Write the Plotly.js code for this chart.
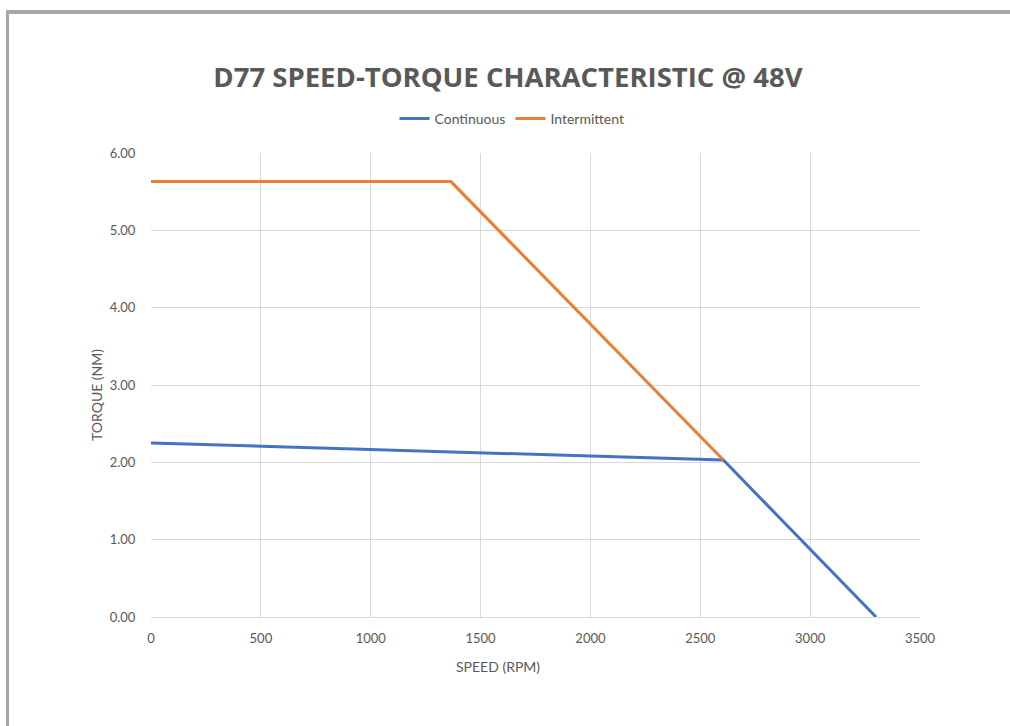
<!DOCTYPE html>
<html>
<head>
<meta charset="utf-8">
<script src="https://cdn.plot.ly/plotly-3.0.1.min.js"></script>
<style>
  html, body { margin: 0; padding: 0; background: #fff; }
  #chart { position: absolute; left: 0; top: 0; width: 1010px; height: 726px; }
  #frame {
    position: absolute; left: 6px; top: 10px; right: 0; bottom: 0;
    border-top: 4px solid #a6a6a6; border-left: 3px solid #a6a6a6;
    pointer-events: none;
  }
</style>
</head>
<body>
<div id="chart"></div>
<div id="frame"></div>
<script>
// speed (rpm) vs torque (Nm)
const contSpeed = [0, 2605, 3300];
const contTorque = [2.25, 2.03, 0];
const interSpeed = [0, 1365, 2605];
const interTorque = [5.63, 5.63, 2.03];

const xTicks = [0, 500, 1000, 1500, 2000, 2500, 3000, 3500];
const yTicks = [0, 1, 2, 3, 4, 5, 6];

const gray = "#595959";
const gridColor = "#d9d9d9";

const traces = [
  {
    x: contSpeed, y: contTorque,
    type: "scatter", mode: "lines", name: "Continuous",
    line: { color: "#4472c4", width: 3 }
  },
  {
    x: interSpeed, y: interTorque,
    type: "scatter", mode: "lines", name: "Intermittent",
    line: { color: "#ed7d31", width: 3 }
  }
];

const layout = {
  width: 1010,
  height: 726,
  paper_bgcolor: "white",
  plot_bgcolor: "white",
  margin: { l: 151, r: 90, t: 153, b: 109 },
  font: { family: "Lato, 'Open Sans', sans-serif", color: gray, size: 13 },
  title: {
    text: "<b>D77 SPEED-TORQUE CHARACTERISTIC @ 48V</b>",
    font: { family: "'Open Sans', sans-serif", size: 27.5, color: gray },
    x: 0.503, xanchor: "center",
    y: 1 - 77 / 726, yanchor: "middle"
  },
  showlegend: true,
  legend: {
    orientation: "h",
    x: (512 - 151) / 769, xanchor: "center",
    y: 1 + (153 - 119) / 464, yanchor: "middle",
    font: { size: 14, color: gray },
    tracegroupgap: 0
  },
  annotations: [
    {
      text: "SPEED (RPM)", xref: "paper", yref: "paper",
      x: (498 - 151) / 769, y: -(666 - 617) / 464,
      xanchor: "center", yanchor: "middle", showarrow: false,
      font: { size: 14, color: gray }
    },
    {
      text: "TORQUE (NM)", xref: "paper", yref: "paper", textangle: -90,
      x: -(151 - 96) / 769, y: (617 - 395) / 464,
      xanchor: "center", yanchor: "middle", showarrow: false,
      font: { size: 14, color: gray }
    }
  ],
  xaxis: {
    range: [0, 3500],
    tickvals: xTicks,
    ticktext: xTicks.map(v => String(v)),
    showgrid: true, gridcolor: gridColor, gridwidth: 1,
    zeroline: false,
    showline: true, linecolor: gridColor, linewidth: 1,
    ticks: "outside", ticklen: 9, tickcolor: "rgba(0,0,0,0)",
    tickfont: { size: 13, color: gray }
  },
  yaxis: {
    range: [0, 6],
    tickvals: yTicks,
    ticktext: yTicks.map(v => v.toFixed(2)),
    showgrid: true, gridcolor: gridColor, gridwidth: 1,
    zeroline: false,
    showline: false,
    ticks: "outside", ticklen: 12, tickcolor: "rgba(0,0,0,0)",
    tickfont: { size: 13, color: gray }
  }
};

Plotly.newPlot("chart", traces, layout, { displayModeBar: false, staticPlot: true });
</script>
</body>
</html>
